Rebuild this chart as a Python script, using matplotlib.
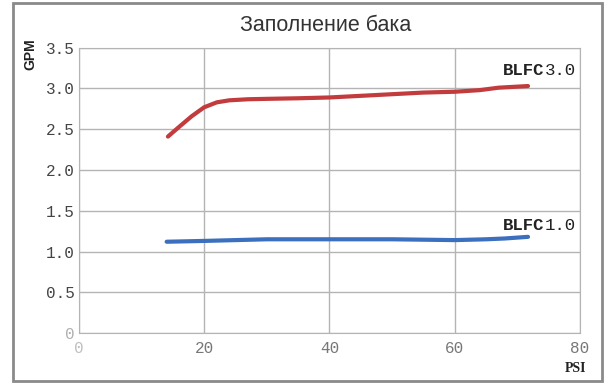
import matplotlib.pyplot as plt
from matplotlib.patches import Rectangle

# данные
psi_3 = [14.2, 16, 18, 20, 22, 24, 27, 30, 35, 40, 45, 50, 55, 60, 64, 67, 71.7]
gpm_3 = [2.41, 2.53, 2.66, 2.77, 2.83, 2.855, 2.868, 2.873, 2.88, 2.89, 2.91, 2.93, 2.95, 2.96, 2.98, 3.01, 3.03]
psi_1 = [14, 20, 25, 30, 40, 50, 60, 65, 68, 71.7]
gpm_1 = [1.12, 1.13, 1.14, 1.15, 1.15, 1.15, 1.14, 1.15, 1.16, 1.18]

series_labels = ['3.0', '1.0']
x_ticks = [0, 20, 40, 60, 80]
y_ticks = [0, 0.5, 1.0, 1.5, 2.0, 2.5, 3.0, 3.5]
y_tick_labels = ['0', '0.5', '1.0', '1.5', '2.0', '2.5', '3.0', '3.5']

fig = plt.figure(figsize=(6.1, 3.85), dpi=100)
ax = fig.add_axes([0.1295, 0.135, 0.8213, 0.741])

ax.plot(psi_3, gpm_3, color='#c23b3d', lw=3, solid_capstyle='round')
ax.plot(psi_1, gpm_1, color='#3c6fbd', lw=3, solid_capstyle='round')

ax.set_xlim(0, 80)
ax.set_ylim(0, 3.5)
ax.set_xticks(x_ticks)
ax.set_yticks(y_ticks)
ax.set_yticklabels(y_tick_labels)
ax.grid(True, color='#b4b4b4', lw=1)
ax.tick_params(length=0, pad=3)
for lab in ax.get_yticklabels():
    lab.set_family('Liberation Mono')
    lab.set_fontsize(11.5)
    lab.set_color('#444444')
for lab in ax.get_xticklabels():
    lab.set_family('Liberation Mono')
    lab.set_fontsize(11.5)
    lab.set_color('#777777')
ax.get_yticklabels()[0].set_color('#b0b0b0')
ax.get_xticklabels()[0].set_color('#c0c0c0')
ax.xaxis.set_tick_params(pad=6)
for s in ax.spines.values():
    s.set_color('#b4b4b4')

# подписи серий справа
fs = 12.5
for y, lab in zip([3.22, 1.32], series_labels):
    ax.annotate(lab, (79.3, y), ha='right', va='center', family='Liberation Mono',
                fontsize=fs, color='#222222')
    ax.annotate('BLFC', (79.3, y), xytext=(-3 * 0.6 * fs, 0), textcoords='offset points',
                ha='right', va='center', family='Liberation Mono',
                fontsize=fs, fontweight='bold', color='#222222')

fig.text(0.533, 0.935, 'Заполнение бака', ha='center', va='center',
         fontsize=15.5, family='Liberation Sans', color='#333333')
fig.text(0.05, 0.86, 'GPM', rotation=90, ha='center', va='center',
         fontsize=10, fontweight='bold', family='Liberation Sans', color='#222222')
fig.text(0.943, 0.043, 'PSI', ha='center', va='center',
         fontsize=10, fontweight='bold', family='Liberation Serif', color='#222222')

# рамка вокруг картинки
fig.patches.append(Rectangle((0.021, 0.01), 0.966, 0.982, transform=fig.transFigure,
                             fill=False, edgecolor='#8a8a8a', lw=2))

plt.savefig('out.png')
